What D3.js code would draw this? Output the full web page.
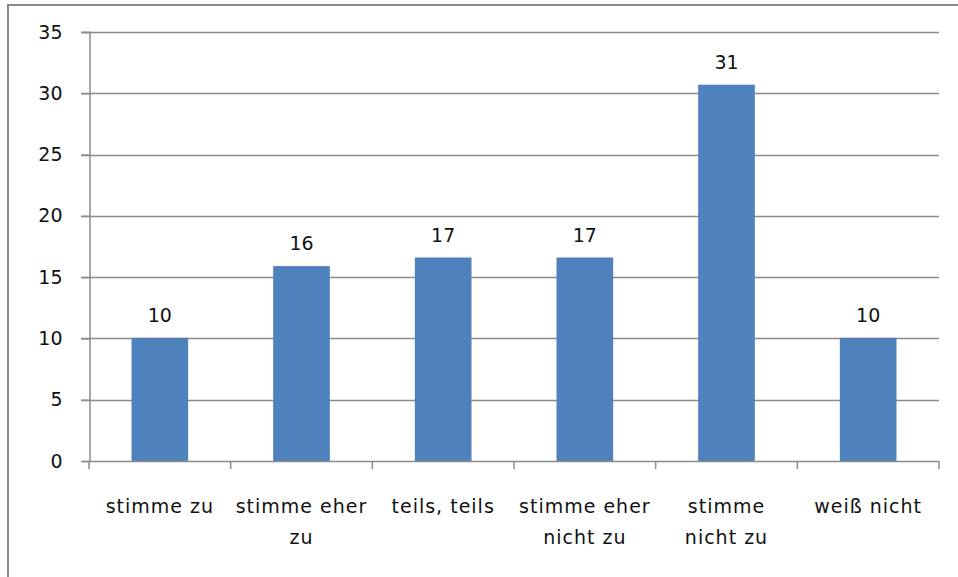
<!DOCTYPE html>
<html>
<head>
<meta charset="utf-8">
<script src="https://cdn.jsdelivr.net/npm/d3@7"></script>
<style>
  body { margin: 0; background: #fff; }
  svg text { font-family: "DejaVu Sans", sans-serif; fill: #111; }
</style>
</head>
<body>
<svg id="chart"></svg>
<script>
let categories = [["stimme zu"], ["stimme eher", "zu"], ["teils, teils"], ["stimme eher", "nicht zu"], ["stimme", "nicht zu"], ["weiß nicht"]];
let values = [10.05, 15.9, 16.6, 16.6, 30.7, 10.05];
let yTicks = [0, 5, 10, 15, 20, 25, 30, 35];

function createChart() {
    let w = 958, h = 577;
    let margin = {top: 32, right: 19, bottom: 116, left: 89};

    let svg = d3.select("#chart")
        .attr("width", w)
        .attr("height", h);

    // outer frame (cut off at right and bottom)
    svg.append("rect")
        .attr("x", 8).attr("y", 5)
        .attr("width", w + 20).attr("height", h + 20)
        .attr("fill", "none")
        .attr("stroke", "#8a8a8a")
        .attr("stroke-width", 2);

    let x = d3.scaleBand()
        .domain(d3.range(categories.length))
        .range([margin.left, w - margin.right])
        .paddingInner(0.6)
        .paddingOuter(0.3);

    let y = d3.scaleLinear()
        .domain([0, 35])
        .range([h - margin.bottom, margin.top]);

    // gridlines
    svg.append("g")
        .selectAll("line")
        .data(yTicks.filter(d => d > 0))
        .enter().append("line")
        .attr("x1", margin.left - 8)
        .attr("x2", w - margin.right)
        .attr("y1", d => Math.round(y(d)) + 0.5)
        .attr("y2", d => Math.round(y(d)) + 0.5)
        .attr("stroke", "#8c8c8c")
        .attr("stroke-width", 1.5);

    // y axis
    let yAxis = svg.append("g")
        .attr("transform", `translate(${margin.left + 0.5},0)`)
        .call(d3.axisLeft(y).tickValues(yTicks).tickSize(8).tickPadding(19));
    yAxis.select(".domain").attr("stroke", "#8c8c8c").attr("stroke-width", 1.5);
    yAxis.selectAll(".tick line").attr("stroke", "#8c8c8c").attr("stroke-width", 1.5);
    yAxis.selectAll("text").style("font-size", "19px").attr("fill", "#111");

    // bars
    svg.append("g")
        .selectAll("rect")
        .data(values)
        .enter().append("rect")
        .attr("x", (d, i) => x(i))
        .attr("width", x.bandwidth())
        .attr("y", d => y(d))
        .attr("height", d => y(0) - y(d))
        .attr("fill", "#4f81bd");

    // x axis line and ticks at band boundaries
    let xAxis = svg.append("g");
    xAxis.append("line")
        .attr("x1", margin.left).attr("x2", w - margin.right)
        .attr("y1", y(0) + 0.5).attr("y2", y(0) + 0.5)
        .attr("stroke", "#8c8c8c").attr("stroke-width", 1.5);
    xAxis.selectAll(".xt")
        .data(d3.range(categories.length + 1))
        .enter().append("line")
        .attr("class", "xt")
        .attr("x1", i => margin.left + i * (w - margin.left - margin.right) / categories.length)
        .attr("x2", i => margin.left + i * (w - margin.left - margin.right) / categories.length)
        .attr("y1", y(0))
        .attr("y2", y(0) + 8)
        .attr("stroke", "#8c8c8c").attr("stroke-width", 1.5);

    // category labels
    let labels = svg.append("g")
        .selectAll("text")
        .data(categories)
        .enter().append("text")
        .attr("text-anchor", "middle")
        .style("font-size", "19px")
        .style("letter-spacing", "1px")
        .attr("transform", (d, i) => `translate(${x(i) + x.bandwidth() / 2},${y(0) + 52})`);
    labels.selectAll("tspan")
        .data(d => d)
        .enter().append("tspan")
        .attr("x", 0)
        .attr("y", (d, j) => j * 31)
        .text(d => d);

    // value labels
    let fmt = d3.format(".0f");
    svg.append("g")
        .selectAll("text")
        .data(values)
        .enter().append("text")
        .attr("text-anchor", "middle")
        .style("font-size", "19px")
        .attr("x", (d, i) => x(i) + x.bandwidth() / 2)
        .attr("y", d => y(d) - 16)
        .text(d => fmt(d));
}

window.onload = function() {
    createChart();
};
</script>
</body>
</html>
